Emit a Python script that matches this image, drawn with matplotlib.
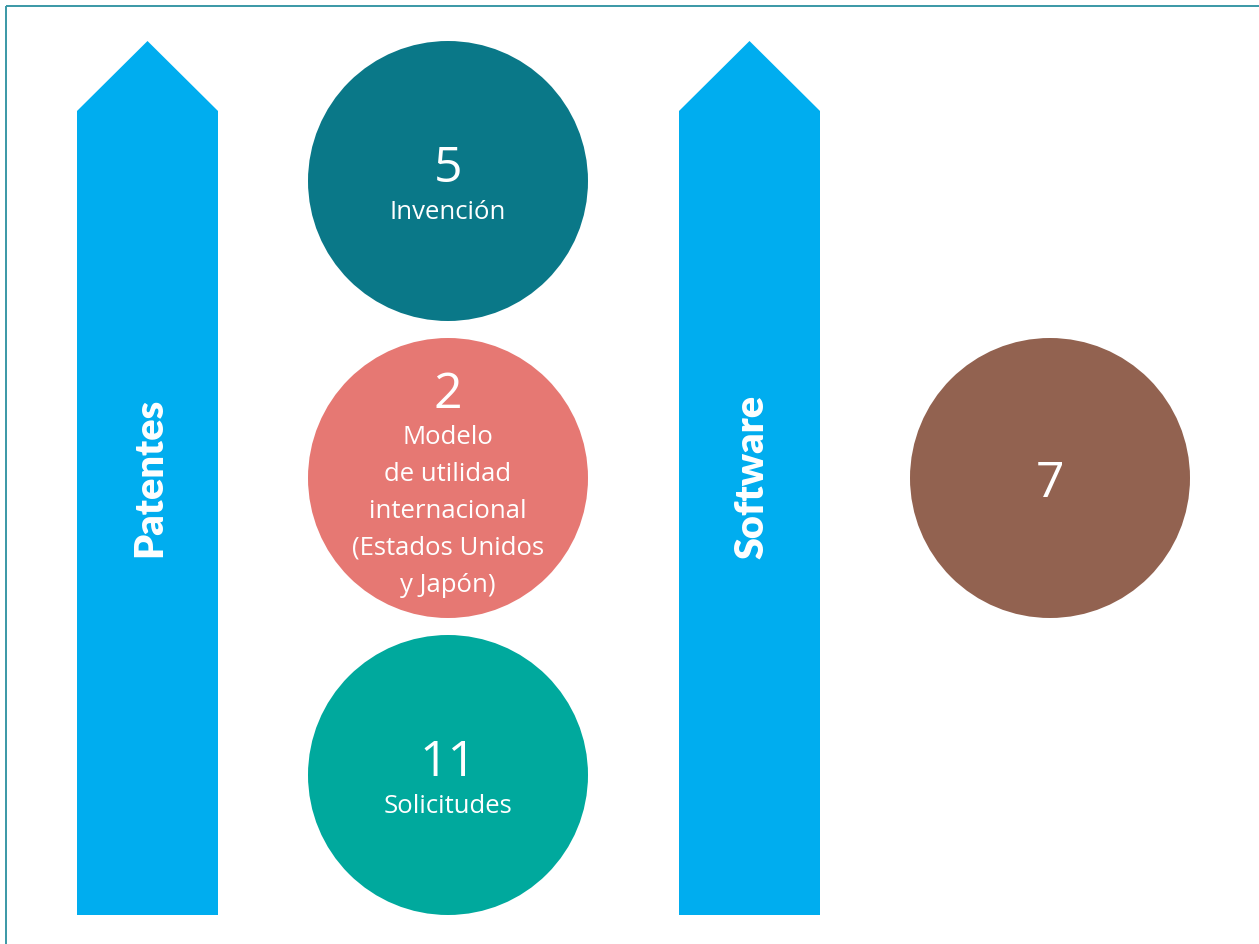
import matplotlib.pyplot as plt
from matplotlib.patches import Circle, Polygon, Rectangle

# =========================
# DATA
# =========================
groups = ["Patentes", "Software"]
patent_values = ["5", "2", "11"]
patent_labels = ["Invención",
                 "Modelo\nde utilidad\ninternacional\n(Estados Unidos\ny Japón)",
                 "Solicitudes"]
software_values = ["7"]
software_labels = [""]

# =========================
# STYLE / LAYOUT
# =========================
arrow_color = "#00ADEF"
patent_colors = ["#0A7888", "#E67873", "#00A99D"]
software_colors = ["#926250"]
border_color = "#3A98A6"

W, H = 1259, 944
arrow_x = [77, 679]
arrow_w = 141
arrow_tip, arrow_shoulder, arrow_bottom = 41, 111, 915
circle_r = 140
patent_cx = 448
patent_cy = [181, 478, 775]
software_cx = 1050
software_cy = [478]

plt.rcParams['font.family'] = ['Open Sans', 'DejaVu Sans']

fig = plt.figure(figsize=(W / 100, H / 100), dpi=100)
ax = fig.add_axes([0, 0, 1, 1])
ax.set_xlim(0, W)
ax.set_ylim(H, 0)
ax.axis("off")

# border
ax.add_patch(Rectangle((6.5, 6), W + 10, H + 10, fill=False,
                       edgecolor=border_color, linewidth=1.4))

# =========================
# ARROWS
# =========================
for x0, name in zip(arrow_x, groups):
    pts = [(x0, arrow_bottom), (x0, arrow_shoulder), (x0 + arrow_w / 2, arrow_tip),
           (x0 + arrow_w, arrow_shoulder), (x0 + arrow_w, arrow_bottom)]
    ax.add_patch(Polygon(pts, closed=True, facecolor=arrow_color, edgecolor="none"))
    ax.text(x0 + arrow_w / 2 + 2, 477, name, rotation=90, ha="center", va="center",
            color="white", fontsize=28.5, fontweight="heavy",
            family=["Lato", "DejaVu Sans"])

# =========================
# CIRCLES
# =========================
def draw_circles(cx, cys, vals, labels, colors):
    for cy, v, lab, c in zip(cys, vals, labels, colors):
        ax.add_patch(Circle((cx, cy), circle_r, facecolor=c, edgecolor="none"))
        if lab == "":
            ax.text(cx, cy + 6, v, ha="center", va="center", color="white", fontsize=36)
            continue
        n = lab.count("\n") + 1
        block = n * 36
        top = cy - (block + 44) / 2 + 4
        ax.text(cx, top, v, ha="center", va="top", color="white", fontsize=36)
        ax.text(cx, top + 55, lab, ha="center", va="top", color="white",
                fontsize=18.5, linespacing=1.63)

draw_circles(patent_cx, patent_cy, patent_values, patent_labels, patent_colors)
draw_circles(software_cx, software_cy, software_values, software_labels, software_colors)

plt.savefig("out.png", dpi=100)
